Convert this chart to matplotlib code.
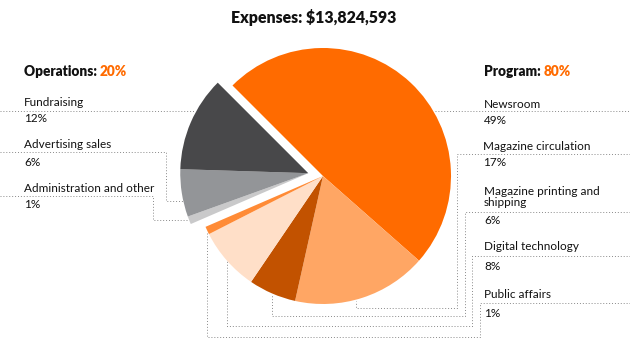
import matplotlib
matplotlib.use("Agg")
import matplotlib.pyplot as plt
import numpy as np

plt.rcParams['font.family'] = ['Lato', 'DejaVu Sans']

# Data
title = "Expenses: $13,824,593"
categories = ["Newsroom", "Magazine circulation", "Magazine printing and\nshipping",
              "Digital technology", "Public affairs",
              "Administration and other", "Advertising sales", "Fundraising"]
shares = [49, 17, 6, 8, 1, 1, 6, 12]
groups = ["Program"] * 5 + ["Operations"] * 3
group_totals = {"Operations": 20, "Program": 80}
colors = ["#FF6B00", "#FFA664", "#C25200", "#FFDFC8", "#FF8B36",
          "#C9C9CA", "#939598", "#48484A"]

ORANGE = "#FF6B00"
LINE = "#8a8a8a"
H = 346


def Y(y):
    # image rows -> axes data (y up)
    return H - y


fig = plt.figure(figsize=(6.3, 3.46), dpi=100)
ax = fig.add_axes([0, 0, 1, 1])

wedges, _ = ax.pie(shares, colors=colors, startangle=135, counterclock=False,
                   center=(323, Y(176)), radius=128, frame=True,
                   wedgeprops=dict(linewidth=0))

# pull the operations slices out together
ops = [w for w, g in zip(wedges, groups) if g == "Operations"]
lo = min(w.theta1 for w in ops)
hi = max(w.theta2 for w in ops)
mid = np.deg2rad((lo + hi) / 2)
for w in ops:
    cx, cy = w.center
    w.set_center((cx + 15 * np.cos(mid), cy + 15 * np.sin(mid)))

ax.set_xlim(0, 630)
ax.set_ylim(0, H)
ax.set_aspect('equal')
ax.axis('off')

# dotted leader lines (image coords)
leaders = [
    [(0, 110.5), (195, 110.5)],
    [(0, 152), (165.5, 152), (165.5, 201), (183, 201)],
    [(0, 196), (153, 196), (153, 219.5), (188, 219.5)],
    [(435, 111), (630, 111)],
    [(630, 154), (456.5, 154), (456.5, 307.5), (356, 307.5), (356, 301)],
    [(630, 211.5), (464.5, 211.5), (464.5, 316), (271.5, 316), (271.5, 295)],
    [(630, 255.5), (472, 255.5), (472, 326), (226.5, 326), (226.5, 260)],
    [(630, 302.5), (479.5, 302.5), (479.5, 336.5), (207, 336.5), (207, 233)],
]
for pts in leaders:
    xs = [p[0] for p in pts]
    ys = [Y(p[1]) for p in pts]
    ax.plot(xs, ys, color=LINE, lw=0.7, ls=(0, (1, 2)), zorder=0)

ax.text(314, Y(17), title, ha='center', va='center', fontsize=11.4,
        fontweight='heavy', color="#111111")


def group_header(x, y, name):
    t = ax.text(x, Y(y), name + ": ", ha='left', va='center', fontsize=9.8,
                fontweight='heavy', color="#111111")
    ax.annotate(f"{group_totals[name]}%", xy=(1, 0), xycoords=t,
                ha='left', va='bottom', fontsize=9.8, fontweight='heavy',
                color=ORANGE)


group_header(24, 72, "Operations")
group_header(484, 72, "Program")

label_pos = {
    "Fundraising": (24, 102, 119),
    "Advertising sales": (24, 144.5, 162),
    "Administration and other": (24, 188, 205),
    "Newsroom": (484, 104, 120),
    "Magazine circulation": (483, 146, 162.5),
    "Magazine printing and\nshipping": (484, 197, 221),
    "Digital technology": (484, 246, 266),
    "Public affairs": (484, 295, 313.5),
}
for cat, val in zip(categories, shares):
    x, ly, vy = label_pos[cat]
    ax.text(x, Y(ly), cat, ha='left', va='center', fontsize=8.5,
            color="#111111", linespacing=1.05)
    ax.text(x, Y(vy), f"{val}%", ha='left', va='center', fontsize=8.5,
            color="#111111")

fig.savefig("out.png", dpi=100)
